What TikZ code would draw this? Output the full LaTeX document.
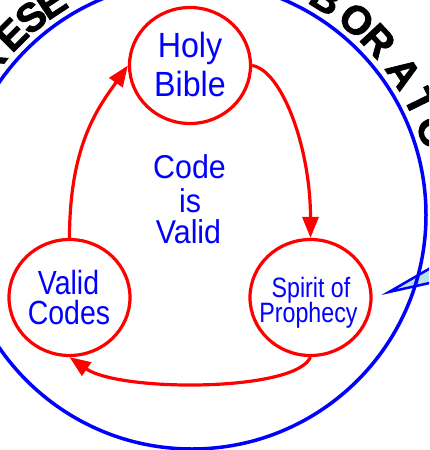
\documentclass[tikz,border=0pt]{standalone}
\usepackage{fontspec}
\setmainfont{Liberation Sans}
\newfontfamily\fHB[FakeStretch=0.92]{Liberation Sans}
\newfontfamily\fVC[FakeStretch=0.85]{Liberation Sans}
\newfontfamily\fSP[FakeStretch=0.83]{Liberation Sans}
\newfontfamily\fL[FakeBold=2]{Liberation Sans Bold}
\usetikzlibrary{arrows.meta,shapes.geometric}
\definecolor{wedgefill}{RGB}{185,225,240}
\begin{document}
\begin{tikzpicture}[x=1pt,y=-1pt,
  bub/.style={ellipse, draw=red, line width=3.2pt, minimum width=121pt, minimum height=116pt, inner sep=0pt},
  lab/.style={text=blue, anchor=base, inner sep=0pt},
  arr/.style={draw=red, line width=3.2pt, -{Triangle[length=21pt,width=16pt]}},
  letterbox/.style={inner sep=0pt}]
\useasboundingbox (0,0) rectangle (429,450);
\fill[white] (0,0) rectangle (429,450);
\clip (0,0) rectangle (429,450);
% outer lettering
\foreach \l/\a [count=\i] in {R/142.8, E/135, S/129.1, E/123.5, B/58.2, O/49.8, R/43.1, A/33.9, T/26.3, O/18.9}
  \node[letterbox, rotate=\a-90] (L\i) at ({192+255*cos(\a)},{215-255*sin(\a)}) {\fL\fontsize{40}{40}\selectfont\l};
% pointer wedge
\draw[blue, line width=2.5pt, fill=wedgefill, line join=miter] (389,292) -- (434,266) -- (434,282) -- cycle;
% blue ring
\draw[blue, line width=3.5pt] (192,215) circle[radius=234];
% circles
\node[bub] (hb) at (190,65.5) {};
\node[bub] (vc) at (69.5,297.5) {};
\node[bub] (sp) at (310.5,297.5) {};
% texts
\node[lab, font=\fHB\fontsize{35}{35}\selectfont] (hb1) at (190,57) {Holy};
\node[lab, font=\fHB\fontsize{35}{35}\selectfont] (hb2) at (190,96) {Bible};
\node[lab, font=\fHB\fontsize{33}{33}\selectfont] (c1) at (189.5,178) {Code};
\node[lab, font=\fHB\fontsize{33}{33}\selectfont] (c2) at (190,212) {is};
\node[lab, font=\fHB\fontsize{33}{33}\selectfont] (c3) at (188.5,243) {Valid};
\node[lab, font=\fVC\fontsize{33.5}{33.5}\selectfont] (vc1) at (68.5,294) {Valid};
\node[lab, font=\fVC\fontsize{33.5}{33.5}\selectfont] (vc2) at (69,324) {Codes};
\node[lab, font=\fSP\fontsize{28}{28}\selectfont] (sp1) at (311,297) {Spirit of};
\node[lab, font=\fSP\fontsize{28}{28}\selectfont] (sp2) at (308.5,322) {Prophecy};
% arrows
\draw[arr] (vc.north) .. controls +(0,-95) and +(-28,40) .. (hb.west);
\draw[arr] (hb.east) .. controls +(30,5) and +(0,-90) .. (sp.north);
\draw[arr] (sp.south) .. controls +(-15,35) and +(50,35) .. (vc.south);
\end{tikzpicture}
\end{document}
